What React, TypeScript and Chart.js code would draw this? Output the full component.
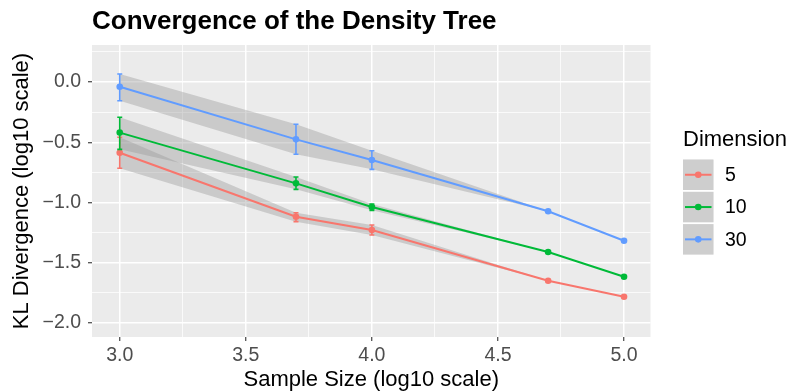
import React, { useEffect, useRef } from "react";
import { Chart, registerables } from "chart.js";

Chart.register(...registerables);

// ---- Data ----
const sampleSizeLog10 = [3, 3.699, 4, 4.699, 5];
const dimensionLabels = ["5", "10", "30"];

const dim5Mean = [-0.587, -1.118, -1.228, -1.649, -1.782];
const dim5Lower = [-0.716, -1.159, -1.27, -1.649, -1.782];
const dim5Upper = [-0.459, -1.085, -1.187, -1.649, -1.782];

const dim10Mean = [-0.42, -0.841, -1.037, -1.411, -1.616];
const dim10Lower = [-0.559, -0.891, -1.065, -1.411, -1.616];
const dim10Upper = [-0.293, -0.788, -1.012, -1.411, -1.616];

const dim30Mean = [-0.039, -0.476, -0.647, -1.073, -1.317];
const dim30Lower = [-0.155, -0.6, -0.725, -1.073, -1.317];
const dim30Upper = [0.066, -0.351, -0.57, -1.073, -1.317];

const seriesColors = ["#F8766D", "#00BA38", "#619CFF"];

const xMajorTicks = [3, 3.5, 4, 4.5, 5];
const xMinorTicks = [3.25, 3.75, 4.25, 4.75];
const xTickLabels = ["3.0", "3.5", "4.0", "4.5", "5.0"];
const yMajorTicks = [-2, -1.5, -1, -0.5, 0];
const yMinorTicks = [-1.75, -1.25, -0.75, -0.25, 0.25];
const yTickLabels = ["\u22122.0", "\u22121.5", "\u22121.0", "\u22120.5", "0.0"];

const titleText = "Convergence of the Density Tree";
const xTitleText = "Sample Size (log10 scale)";
const yTitleText = "KL Divergence (log10 scale)";
const legendTitleText = "Dimension";

const FONT = "'Liberation Sans', Arial, Helvetica, sans-serif";
const RIBBON = "rgba(153,153,153,0.4)";
const TICK_SIZE = 19.5;

export default function App() {
  const ref = useRef<HTMLCanvasElement>(null);

  useEffect(() => {
    document.body.style.margin = "0";
    const canvas = ref.current!;
    const series = [
      { label: dimensionLabels[0], mean: dim5Mean, lower: dim5Lower, upper: dim5Upper, color: seriesColors[0] },
      { label: dimensionLabels[1], mean: dim10Mean, lower: dim10Lower, upper: dim10Upper, color: seriesColors[1] },
      { label: dimensionLabels[2], mean: dim30Mean, lower: dim30Lower, upper: dim30Upper, color: seriesColors[2] },
    ];

    const datasets: any[] = [];
    series.forEach((s) => {
      datasets.push({
        label: s.label + " upper",
        data: sampleSizeLog10.map((x, i) => ({ x, y: s.upper[i] })),
        borderWidth: 0,
        borderColor: "transparent",
        pointRadius: 0,
        fill: "+1",
        backgroundColor: RIBBON,
      });
      datasets.push({
        label: s.label + " lower",
        data: sampleSizeLog10.map((x, i) => ({ x, y: s.lower[i] })),
        borderWidth: 0,
        borderColor: "transparent",
        pointRadius: 0,
        fill: false,
      });
      datasets.push({
        label: s.label,
        data: sampleSizeLog10.map((x, i) => ({ x, y: s.mean[i] })),
        borderColor: s.color,
        backgroundColor: s.color,
        borderWidth: 2,
        pointRadius: 3.3,
        pointBorderWidth: 0,
        pointBackgroundColor: s.color,
        fill: false,
      });
    });

    const isMajor = (v: number) => Math.abs(v * 2 - Math.round(v * 2)) < 1e-6;

    const panelBg = {
      id: "panelBg",
      beforeDraw(chart: any) {
        const { ctx, chartArea: a } = chart;
        ctx.save();
        ctx.fillStyle = "#EBEBEB";
        ctx.fillRect(a.left, a.top, a.right - a.left, a.bottom - a.top);
        ctx.restore();
      },
    };

    const errorBars = {
      id: "errorBars",
      afterDatasetsDraw(chart: any) {
        const { ctx, scales } = chart;
        const xs = scales.x;
        const ys = scales.y;
        ctx.save();
        ctx.lineWidth = 1.6;
        series.forEach((s) => {
          ctx.strokeStyle = s.color;
          sampleSizeLog10.forEach((x, i) => {
            if (Math.abs(s.upper[i] - s.lower[i]) < 1e-9) return;
            const px = xs.getPixelForValue(x);
            const py1 = ys.getPixelForValue(s.upper[i]);
            const py2 = ys.getPixelForValue(s.lower[i]);
            ctx.beginPath();
            ctx.moveTo(px, py1);
            ctx.lineTo(px, py2);
            ctx.moveTo(px - 2.5, py1);
            ctx.lineTo(px + 2.5, py1);
            ctx.moveTo(px - 2.5, py2);
            ctx.lineTo(px + 2.5, py2);
            ctx.stroke();
          });
        });
        ctx.restore();
      },
    };

    const texts = {
      id: "texts",
      afterDraw(chart: any) {
        const { ctx, chartArea: a } = chart;
        ctx.save();
        ctx.fillStyle = "#000000";
        ctx.textBaseline = "alphabetic";
        ctx.textAlign = "left";
        ctx.font = `bold 26px ${FONT}`;
        ctx.fillText(titleText, a.left, 29);

        ctx.font = `22px ${FONT}`;
        ctx.textAlign = "center";
        ctx.fillText(xTitleText, (a.left + a.right) / 2, 386);

        ctx.save();
        ctx.translate(28, (a.top + a.bottom) / 2);
        ctx.rotate(-Math.PI / 2);
        ctx.fillText(yTitleText, 0, 0);
        ctx.restore();

        // legend
        ctx.textAlign = "left";
        ctx.font = `22px ${FONT}`;
        ctx.fillText(legendTitleText, 683, 146);
        series.forEach((s, k) => {
          const top = 159.5 + k * 32.3;
          const left = 683;
          const size = 30.5;
          ctx.fillStyle = "#F2F2F2";
          ctx.fillRect(left, top, size, size);
          ctx.fillStyle = RIBBON;
          ctx.fillRect(left, top, size, size);
          const cy = top + size / 2;
          ctx.strokeStyle = s.color;
          ctx.lineWidth = 2;
          ctx.beginPath();
          ctx.moveTo(left + 2, cy);
          ctx.lineTo(left + size - 2, cy);
          ctx.stroke();
          ctx.fillStyle = s.color;
          ctx.beginPath();
          ctx.arc(left + size / 2, cy, 3.3, 0, Math.PI * 2);
          ctx.fill();
          ctx.fillStyle = "#000000";
          ctx.font = `${TICK_SIZE}px ${FONT}`;
          ctx.textBaseline = "middle";
          ctx.fillText(s.label, 725, cy + 1);
          ctx.textBaseline = "alphabetic";
        });
        ctx.restore();
      },
    };

    const chart = new Chart(canvas, {
      type: "line",
      data: { datasets },
      options: {
        animation: false,
        responsive: false,
        events: [],
        layout: { padding: { left: 0, right: 137.5, top: 45, bottom: 0 } },
        plugins: {
          legend: { display: false },
          title: { display: false },
          tooltip: { enabled: false },
          filler: { drawTime: "beforeDatasetsDraw" },
        } as any,
        elements: { line: { tension: 0 } },
        scales: {
          x: {
            type: "linear",
            min: 2.89,
            max: 5.105,
            afterBuildTicks: (scale: any) => {
              scale.ticks = [...xMajorTicks, ...xMinorTicks].sort((a, b) => a - b).map((v) => ({ value: v }));
            },
            afterFit: (scale: any) => {
              scale.height = 54;
            },
            border: { display: false },
            grid: {
              color: "#FFFFFF",
              lineWidth: (c: any) => (isMajor(c.tick.value) ? 1.5 : 0.75),
              tickColor: (c: any) => (isMajor(c.tick.value) ? "#333333" : "rgba(0,0,0,0)"),
              tickWidth: 1.1,
              tickLength: 4,
              drawTicks: true,
            },
            ticks: {
              autoSkip: false,
              maxRotation: 0,
              padding: 3,
              color: "#4D4D4D",
              font: { family: FONT, size: TICK_SIZE },
              callback: (v: any) => {
                const idx = xMajorTicks.findIndex((t) => Math.abs(t - v) < 1e-6);
                return idx >= 0 ? xTickLabels[idx] : "";
              },
            },
          },
          y: {
            type: "linear",
            min: -2.116,
            max: 0.307,
            afterBuildTicks: (scale: any) => {
              scale.ticks = [...yMajorTicks, ...yMinorTicks].sort((a, b) => a - b).map((v) => ({ value: v }));
            },
            afterFit: (scale: any) => {
              scale.width = 92;
            },
            border: { display: false },
            grid: {
              color: "#FFFFFF",
              lineWidth: (c: any) => (isMajor(c.tick.value) ? 1.5 : 0.75),
              tickColor: (c: any) => (isMajor(c.tick.value) ? "#333333" : "rgba(0,0,0,0)"),
              tickWidth: 1.1,
              tickLength: 4,
              drawTicks: true,
            },
            ticks: {
              autoSkip: false,
              padding: 7,
              color: "#4D4D4D",
              font: { family: FONT, size: TICK_SIZE },
              callback: (v: any) => {
                const idx = yMajorTicks.findIndex((t) => Math.abs(t - v) < 1e-6);
                return idx >= 0 ? yTickLabels[idx] : "";
              },
            },
          },
        },
      },
      plugins: [panelBg, errorBars, texts],
    });

    return () => chart.destroy();
  }, []);

  return <canvas ref={ref} width={788} height={391} style={{ display: "block", width: 788, height: 391 }} />;
}
